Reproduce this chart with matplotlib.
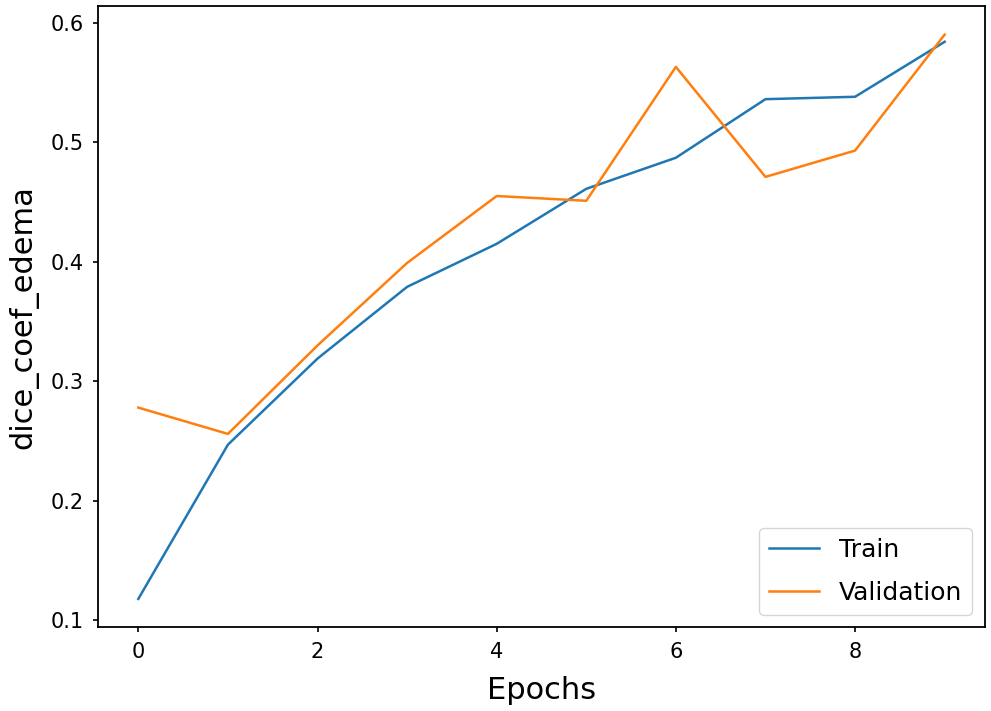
import matplotlib
matplotlib.use("Agg")
import matplotlib.pyplot as plt

epochs = list(range(10))
train = [0.118, 0.247, 0.319, 0.379, 0.415, 0.461, 0.487, 0.536, 0.538, 0.584]
validation = [0.278, 0.256, 0.330, 0.399, 0.455, 0.451, 0.563, 0.471, 0.493, 0.590]

fig = plt.figure(figsize=(9.91, 7.11), dpi=100)
ax = fig.add_axes([0.0989, 0.118, 0.895, 0.873])
ax.plot(epochs, train, color="#1f77b4", lw=1.8, label="Train")
ax.plot(epochs, validation, color="#ff7f0e", lw=1.8, label="Validation")
ax.set_xlabel("Epochs", fontsize=22, labelpad=10)
ax.set_ylabel("dice_coef_edema", fontsize=22, labelpad=9)
ax.set_xticks([0, 2, 4, 6, 8])
ax.set_yticks([0.1, 0.2, 0.3, 0.4, 0.5, 0.6])
ax.tick_params(labelsize=15, width=1.2)
ax.tick_params(axis="x", pad=7)
ax.tick_params(axis="y", pad=6.5)
for s in ax.spines.values():
    s.set_linewidth(1.3)
ax.legend(loc="lower right", fontsize=18, labelspacing=0.75)
fig.savefig("out.png", dpi=100)
